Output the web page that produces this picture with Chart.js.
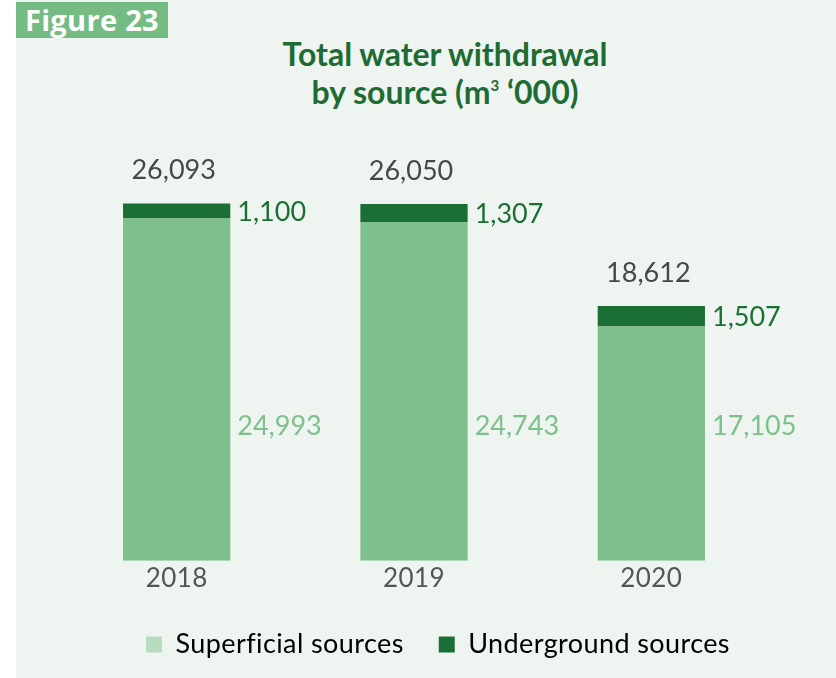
<!DOCTYPE html>
<html>
<head>
<meta charset="utf-8">
<script src="https://cdn.jsdelivr.net/npm/chart.js@4"></script>
<style>
  html, body { margin: 0; padding: 0; background: #ffffff; }
  #wrap { position: relative; width: 836px; height: 678px; overflow: hidden; }
  #panel { position: absolute; left: 16px; top: 0; right: 0; bottom: 0; background: #eef5f1; }
  #badge { position: absolute; left: 16px; top: 2px; width: 152px; height: 36px; background: #74bb84;
           color: #ffffff; font: bold 29px "Open Sans", sans-serif; line-height: 35px; padding-left: 9px;
           letter-spacing: 0.3px; box-sizing: border-box; }
  #title { position: absolute; left: 0; width: 890px; top: 35px; text-align: center; color: #1e6b34;
           font: bold 32px "Lato", sans-serif; line-height: 38px; }
  #title sup { font-size: 15px; line-height: 0; vertical-align: 13px; }
  canvas { position: absolute; left: 0; top: 0; }
</style>
</head>
<body>
<div id="wrap">
  <div id="panel"></div>
  <div id="badge">Figure 23</div>
  <div id="title">Total water withdrawal<br>by source (m<sup>3</sup> ‘000)</div>
  <canvas id="waterChart" width="836" height="678"></canvas>
</div>
<script>
// Total water withdrawal by source, thousand m3
const years = ["2018", "2019", "2020"];
const superficial = [24993, 24743, 17105];
const underground = [1100, 1307, 1507];
const seriesNames = ["Superficial sources", "Underground sources"];

const LIGHT = "#7dc08c";
const LIGHT_SWATCH = "#b6dcbd";
const DARK = "#1c6f34";
const fmtNum = v => v.toLocaleString("en-US");

// value labels: totals on top, underground beside the dark cap, superficial beside the bar
const valueLabels = {
  id: "valueLabels",
  beforeLayout(chart) {
    // a touch of tracking, also keeps "fi" from joining
    chart.ctx.letterSpacing = "0.4px";
  },
  afterLayout(chart) {
    // legend sits a little right of the bars' centre
    chart.legend.left += 24;
    chart.legend.right += 24;
  },
  beforeDraw(chart) {
    chart.ctx.letterSpacing = "0.4px";
  },
  afterDatasetsDraw(chart) {
    const ctx = chart.ctx;
    const y = chart.scales.y;
    const undMeta = chart.getDatasetMeta(1);
    ctx.save();
    ctx.letterSpacing = "0px";
    ctx.font = "27px Lato, sans-serif";
    ctx.textBaseline = "middle";
    years.forEach((yr, i) => {
      const ub = undMeta.data[i];
      const right = ub.x + ub.width / 2 + 7;
      const total = superficial[i] + underground[i];
      ctx.textAlign = "center";
      ctx.fillStyle = "#474747";
      ctx.fillText(fmtNum(total), ub.x - 3, ub.y - 33);
      ctx.textAlign = "left";
      ctx.fillStyle = DARK;
      ctx.fillText(fmtNum(underground[i]), right, (ub.y + ub.base) / 2 + 1);
      ctx.fillStyle = LIGHT;
      ctx.fillText(fmtNum(superficial[i]), right, y.getPixelForValue(9800));
    });
    ctx.restore();
  }
};

new Chart(document.getElementById("waterChart").getContext("2d"), {
  type: "bar",
  data: {
    labels: years,
    datasets: [
      { label: seriesNames[0], data: superficial, backgroundColor: LIGHT, barPercentage: 0.452, categoryPercentage: 1 },
      { label: seriesNames[1], data: underground, backgroundColor: DARK, barPercentage: 0.452, categoryPercentage: 1 }
    ]
  },
  options: {
    responsive: false,
    animation: false,
    layout: { padding: { left: 58, right: 66, top: 150, bottom: 10 } },
    plugins: {
      title: { display: false },
      tooltip: { enabled: false },
      legend: {
        position: "bottom",
        labels: {
          color: "#555555",
          font: { family: "Lato", size: 27 },
          boxWidth: 16, boxHeight: 16, padding: 35,
          generateLabels: () => [
            { text: seriesNames[0], fillStyle: LIGHT_SWATCH, strokeStyle: LIGHT_SWATCH, lineWidth: 0, datasetIndex: 0 },
            { text: seriesNames[1], fillStyle: DARK, strokeStyle: DARK, lineWidth: 0, datasetIndex: 1 }
          ]
        }
      }
    },
    scales: {
      x: {
        stacked: true,
        grid: { display: false, drawTicks: false },
        border: { display: false },
        ticks: { color: "#555555", font: { family: "Lato", size: 26 }, padding: 2 }
      },
      y: {
        stacked: true,
        display: false,
        min: 0, max: 30000
      }
    }
  },
  plugins: [valueLabels]
});
</script>
</body>
</html>
